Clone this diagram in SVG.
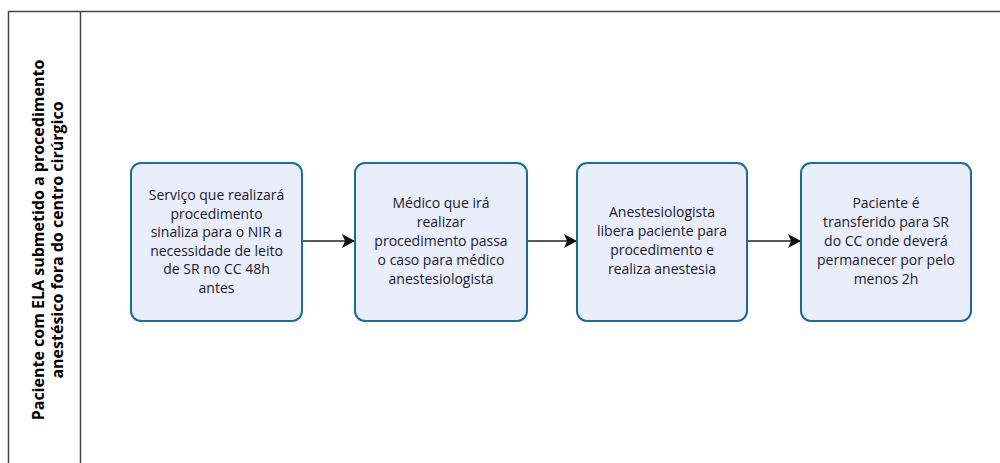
<svg xmlns="http://www.w3.org/2000/svg" width="1000" height="463" viewBox="0 0 1000 463">
<style>
.box{fill:#e9edfc;stroke:#1d6d98;stroke-width:2}
.t{font-family:"Open Sans","Noto Sans",sans-serif;font-size:14px;fill:#1a1a2a;text-anchor:middle}
.lane{font-family:"Open Sans","Noto Sans",sans-serif;font-size:16px;font-weight:bold;fill:#000;text-anchor:middle}
.c{stroke:#222;stroke-width:1.5;fill:none}
</style>
<defs>
<marker id="ah" markerUnits="userSpaceOnUse" markerWidth="14" markerHeight="14" refX="13" refY="7" orient="auto">
<path d="M0,0 L13,7 L0,14 L3,7 Z" fill="#111"/>
</marker>
</defs>
<rect width="1000" height="463" fill="#fff"/>
<g id="pool">
<path d="M1003,11.5 H8.5 V470" fill="none" stroke="#444" stroke-width="1.5"/>
<line x1="80.5" y1="11.5" x2="80.5" y2="470" stroke="#444" stroke-width="1.5"/>
<text class="lane" transform="translate(44,240) rotate(-90)"><tspan x="0" y="0">Paciente com ELA submetido a procedimento</tspan><tspan x="0" y="19">anestésico fora do centro cirúrgico</tspan></text>
</g>
<g id="connectors">
<line class="c" x1="302" y1="241" x2="355" y2="241" marker-end="url(#ah)"/>
<line class="c" x1="527" y1="241" x2="577" y2="241" marker-end="url(#ah)"/>
<line class="c" x1="747" y1="241" x2="801" y2="241" marker-end="url(#ah)"/>
</g>
<g id="n1">
<rect class="box" x="131" y="163" width="171" height="158" rx="10"/>
<text class="t"><tspan x="216.5" y="200">Serviço que realizará</tspan><tspan x="216.5" y="218.5">procedimento</tspan><tspan x="216.5" y="237">sinaliza para o NIR a</tspan><tspan x="216.5" y="255.5">necessidade de leito</tspan><tspan x="216.5" y="274">de SR no CC 48h</tspan><tspan x="216.5" y="292.5">antes</tspan></text>
</g>
<g id="n2">
<rect class="box" x="355" y="163" width="172" height="158" rx="10"/>
<text class="t"><tspan x="441" y="208">Médico que irá</tspan><tspan x="441" y="227">realizar</tspan><tspan x="441" y="246">procedimento passa</tspan><tspan x="441" y="265">o caso para médico</tspan><tspan x="441" y="284">anestesiologista</tspan></text>
</g>
<g id="n3">
<rect class="box" x="577" y="163" width="170" height="158" rx="10"/>
<text class="t"><tspan x="662" y="217">Anestesiologista</tspan><tspan x="662" y="236">libera paciente para</tspan><tspan x="662" y="255">procedimento e</tspan><tspan x="662" y="274">realiza anestesia</tspan></text>
</g>
<g id="n4">
<rect class="box" x="801" y="163" width="170" height="158" rx="10"/>
<text class="t"><tspan x="886" y="208">Paciente é</tspan><tspan x="886" y="227">transferido para SR</tspan><tspan x="886" y="246">do CC onde deverá</tspan><tspan x="886" y="265">permanecer por pelo</tspan><tspan x="886" y="284">menos 2h</tspan></text>
</g>
</svg>
